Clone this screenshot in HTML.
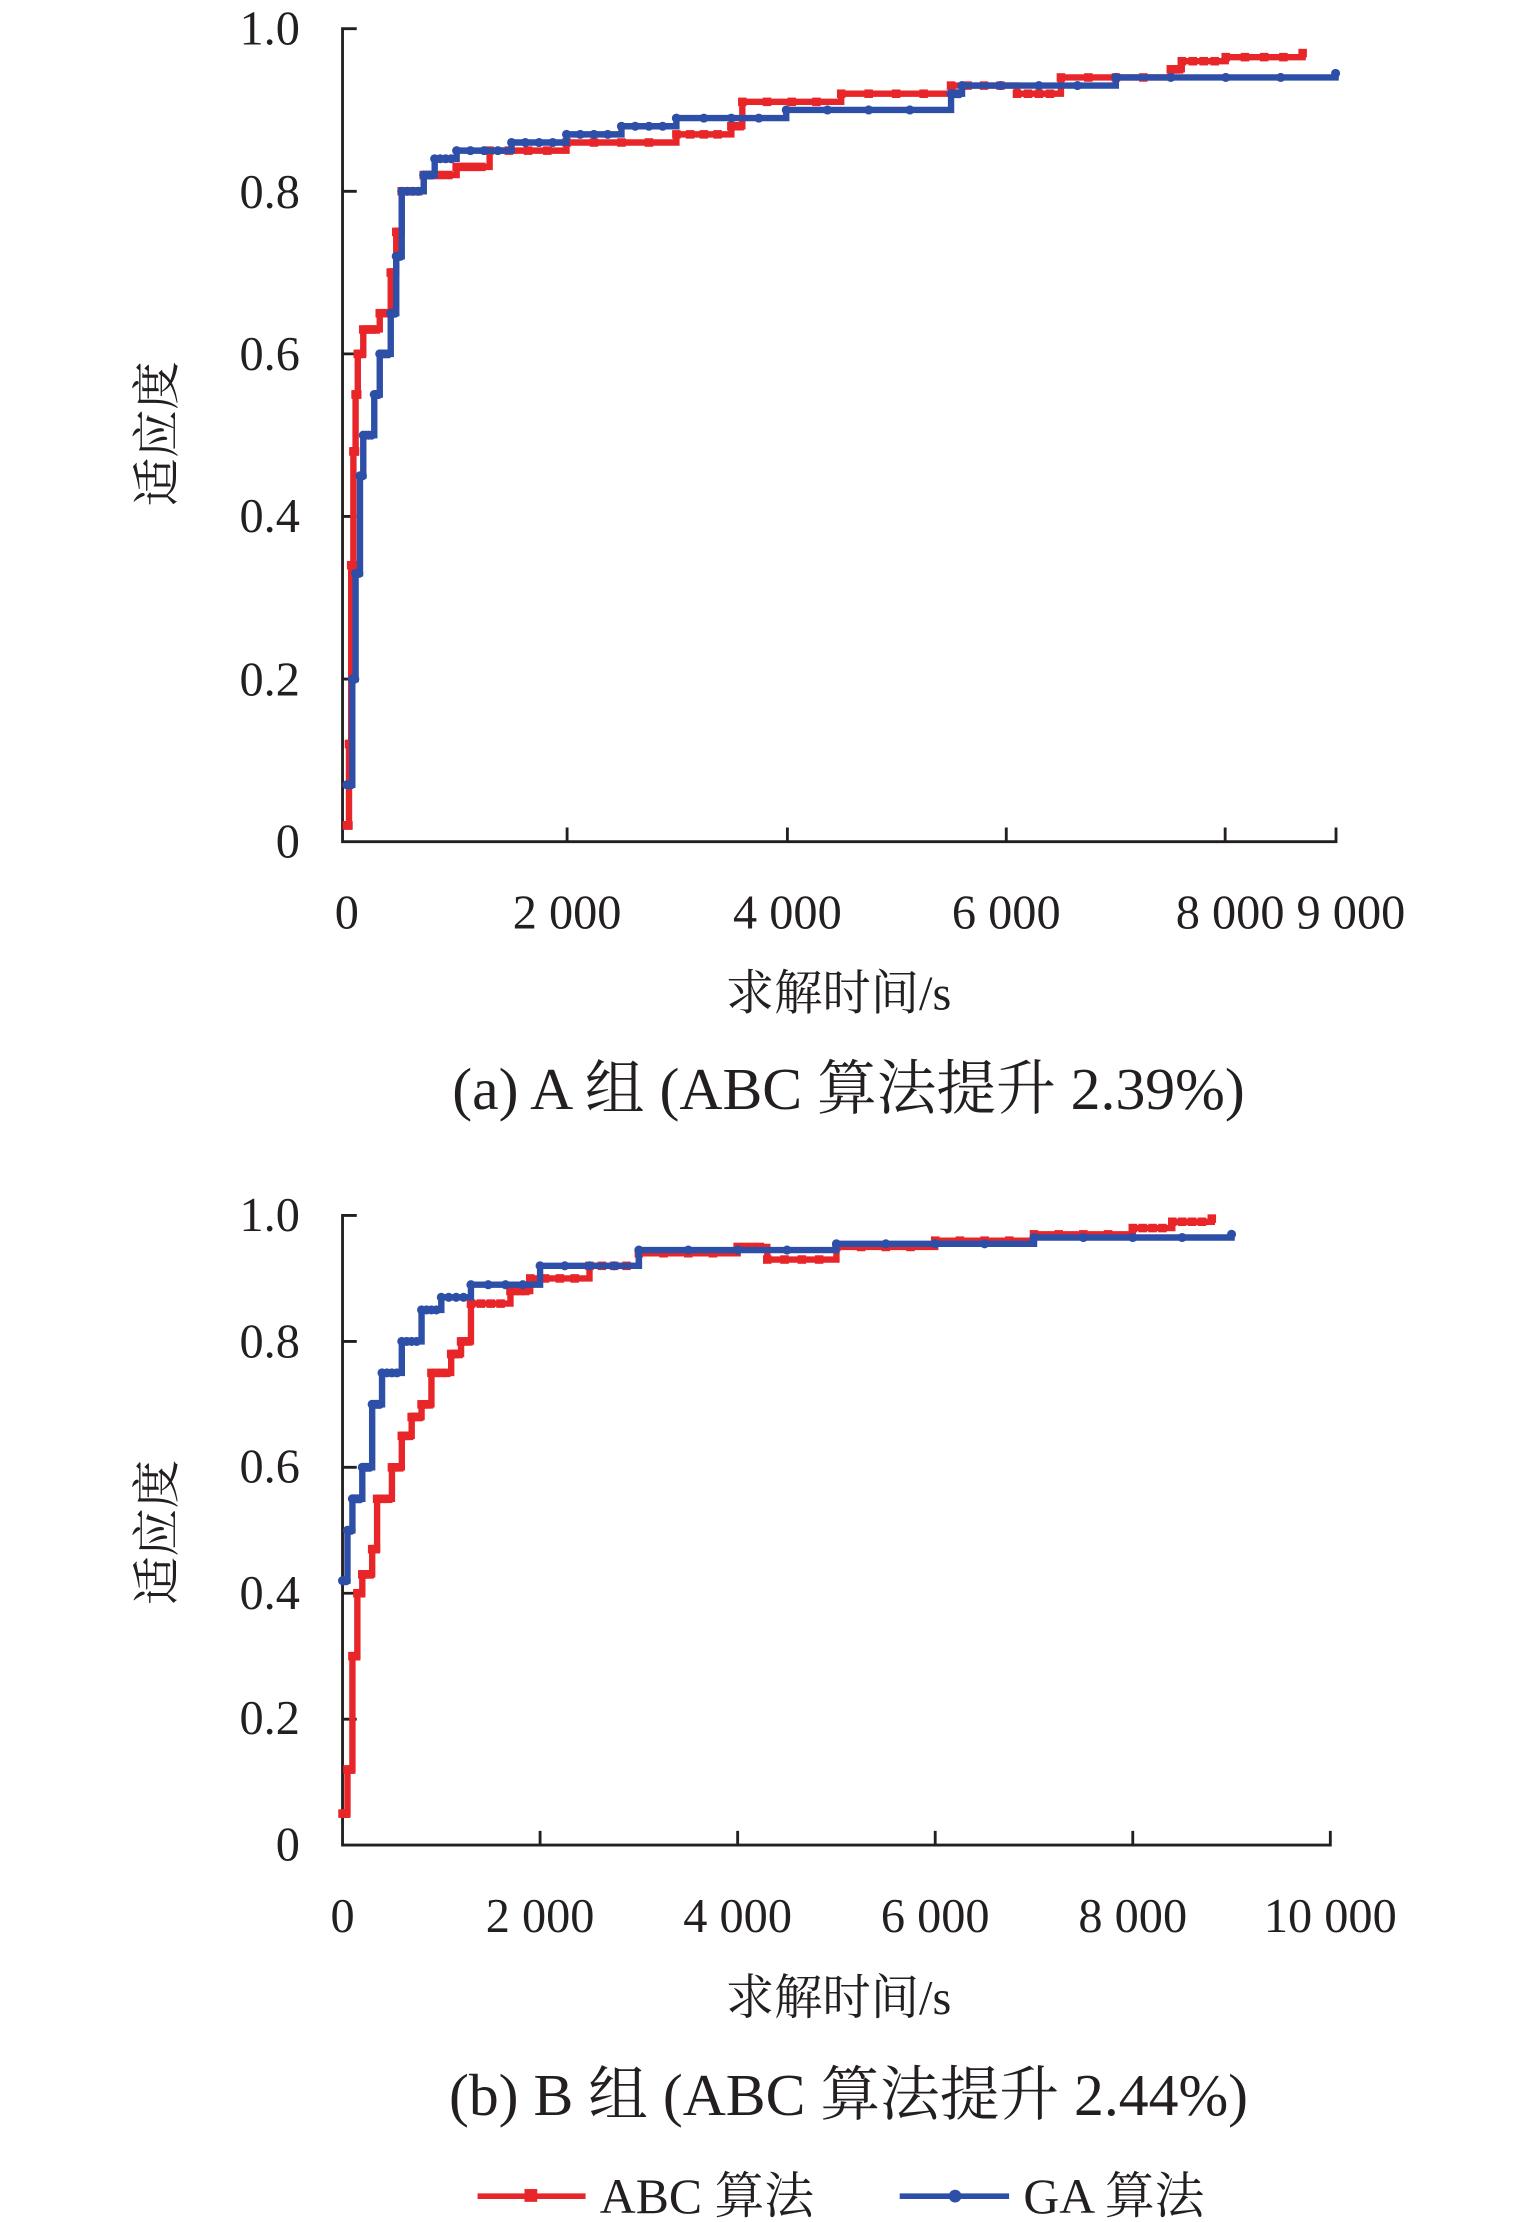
<!DOCTYPE html>
<html><head><meta charset="utf-8"><style>
html,body{margin:0;padding:0;background:#fff;}
svg{display:block;}
text{font-family:"Liberation Serif","Noto Serif CJK SC",serif;fill:#231f20;}
</style></head><body>
<svg id="s" width="1535" height="2222" viewBox="0 0 1080 1563" xmlns="http://www.w3.org/2000/svg">
<g stroke="#231f20" stroke-width="2" fill="none">
<path d="M251,20 H241 V592 H940 V582"/>
<path d="M241,134.4 H251 M241,248.8 H251 M241,363.2 H251 M241,477.6 H251 M399,592 V582 M554,592 V582 M708,592 V582 M862,592 V582"/>
<path d="M251,855 H241 V1298 H936 V1288"/>
<path d="M241,943.6 H251 M241,1032.2 H251 M241,1120.8 H251 M241,1209.4 H251 M380,1298 V1288 M519,1298 V1288 M658,1298 V1288 M797,1298 V1288"/>
</g>
<g font-size="34" text-anchor="end">
<text x="211" y="31">1.0</text><text x="211" y="146">0.8</text><text x="211" y="260">0.6</text>
<text x="211" y="374">0.4</text><text x="211" y="489">0.2</text><text x="211" y="603">0</text>
<text x="211" y="866">1.0</text><text x="211" y="955">0.8</text><text x="211" y="1043">0.6</text>
<text x="211" y="1132">0.4</text><text x="211" y="1220">0.2</text><text x="211" y="1309">0</text>
</g>
<g font-size="34" text-anchor="middle">
<text x="244" y="653">0</text><text x="399" y="653">2 000</text><text x="554" y="653">4 000</text>
<text x="708" y="653">6 000</text><text x="908" y="653">8 000 9 000</text>
<text x="241" y="1359">0</text><text x="380" y="1359">2 000</text><text x="519" y="1359">4 000</text>
<text x="658" y="1359">6 000</text><text x="797" y="1359">8 000</text><text x="936" y="1359">10 000</text>
<text x="590" y="710">求解时间/s</text>
<text x="590" y="1417">求解时间/s</text>
<text x="597" y="780" font-size="42">(a) A 组 (ABC 算法提升 2.39%)</text>
<text x="597" y="1488" font-size="42">(b) B 组 (ABC 算法提升 2.44%)</text>
<text transform="translate(122,305) rotate(-90)">适应度</text>
<text transform="translate(122,1078) rotate(-90)">适应度</text>
</g>
<g>
<line x1="336" y1="1545" x2="412" y2="1545" stroke="#e8262a" stroke-width="4"/>
<rect x="369" y="1540" width="9" height="9" fill="#e8262a"/>
<text x="422" y="1557" font-size="35">ABC 算法</text>
<line x1="633" y1="1545" x2="710" y2="1545" stroke="#2d4fa8" stroke-width="4"/>
<circle cx="672" cy="1545" r="4.5" fill="#2d4fa8"/>
<text x="720" y="1557" font-size="35">GA 算法</text>
</g>
<g id="series"></g>
</svg>
<script>
function draw(pts,x0,sx,y0,sy,color,sq){
 var g=document.getElementById('series');
 var d="",first=true,m="",prev=null;
 function mk(x,y){m+=sq?"<rect x='"+(x-3)+"' y='"+(y-3)+"' width='6' height='6' fill='"+color+"'/>":"<circle cx='"+x+"' cy='"+y+"' r='3.2' fill='"+color+"'/>";}
 pts.forEach(function(p){var x=x0+p[0]*sx,y=y0-p[1]*sy;
  if(first){d+="M"+x+","+y;first=false;}else{
   for(var k=1;k<4;k++){mk(prev[0]+(x-prev[0])*k/4,prev[1]);}
   d+=" H"+x+" V"+y;}
  mk(x,y);prev=[x,y];});
 g.innerHTML+="<path d='"+d+"' stroke='"+color+"' stroke-width='4.5' fill='none'/>"+m;
}
var ra=[[0,0.02],[20,0.12],[40,0.34],[60,0.48],[80,0.55],[100,0.6],[150,0.63],[300,0.65],[400,0.7],[450,0.75],[500,0.8],[700,0.82],[1000,0.83],[1300,0.85],[2000,0.86],[3000,0.87],[3500,0.88],[3600,0.91],[4500,0.92],[5500,0.93],[6100,0.92],[6500,0.94],[7500,0.95],[7600,0.96],[8000,0.965],[8700,0.97]];
var ba=[[0,0.07],[50,0.2],[80,0.33],[120,0.45],[150,0.5],[250,0.55],[300,0.6],[400,0.65],[450,0.72],[500,0.8],[700,0.82],[800,0.84],[1000,0.85],[1500,0.86],[2000,0.87],[2500,0.88],[3000,0.89],[4000,0.9],[5500,0.92],[5600,0.93],[7000,0.94],[9000,0.945]];
var rb=[[0,0.05],[50,0.12],[100,0.3],[150,0.4],[200,0.43],[300,0.47],[350,0.55],[500,0.6],[600,0.65],[700,0.68],[800,0.7],[900,0.75],[1100,0.78],[1200,0.8],[1300,0.86],[1700,0.88],[1900,0.9],[2500,0.92],[3000,0.94],[4000,0.95],[4300,0.93],[5000,0.95],[6000,0.96],[7000,0.97],[8000,0.98],[8400,0.99],[8800,0.995]];
var bb=[[0,0.42],[50,0.5],[100,0.55],[200,0.6],[300,0.7],[400,0.75],[600,0.8],[800,0.85],[1000,0.87],[1300,0.89],[2000,0.92],[3000,0.945],[5000,0.955],[7000,0.965],[9000,0.97]];
draw(ra,244,0.0773,592,572,"#e8262a",true);
draw(ba,244,0.0773,592,572,"#2d4fa8",false);
draw(rb,241,0.0695,1298,443,"#e8262a",true);
draw(bb,241,0.0695,1298,443,"#2d4fa8",false);
</script>
</body></html>
